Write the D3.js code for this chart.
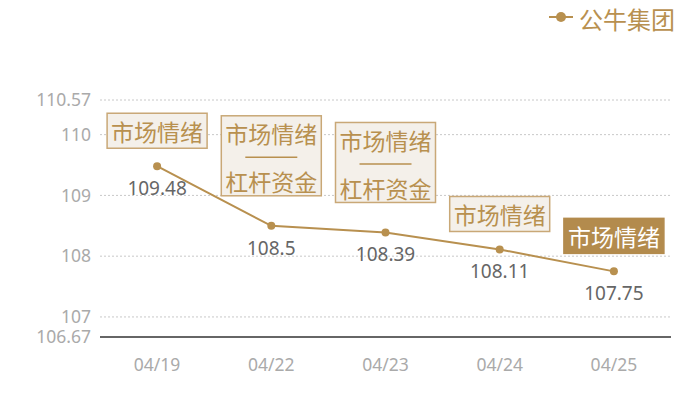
<!DOCTYPE html>
<html>
<head>
<meta charset="utf-8">
<script src="https://cdn.jsdelivr.net/npm/d3@7"></script>
<style>
html,body{margin:0;padding:0;background:#fff;}
svg{display:block;}
</style>
</head>
<body>
<svg id="chart" width="700" height="400"></svg>
<script>
const categories = ["04/19", "04/22", "04/23", "04/24", "04/25"];
const values = [109.48, 108.5, 108.39, 108.11, 107.75];
const seriesName = "公牛集团";
const yTicks = [106.67, 107, 108, 109, 110, 110.57];
const yDomain = [106.67, 110.57];
const annotations = [["市场情绪"], ["市场情绪", "杠杆资金"], ["市场情绪", "杠杆资金"], ["市场情绪"], ["市场情绪"]];
const highlighted = [false, false, false, false, true];

const gold = "#b8904f";
const cjk = "'Noto Sans CJK SC', 'Noto Sans', sans-serif";
const latin = "'Noto Sans', 'DejaVu Sans', sans-serif";

const svg = d3.select("#chart");
const x = d3.scaleBand().domain(categories).range([100, 671]).padding(0);
const y = d3.scaleLinear().domain(yDomain).range([337, 100]);
const cx = d => x(d) + x.bandwidth() / 2;

// grid lines
svg.append("g").selectAll("line").data(yTicks.filter(t => t !== yDomain[0])).join("line")
  .attr("x1", 100).attr("x2", 671)
  .attr("y1", d => y(d)).attr("y2", d => y(d))
  .attr("stroke", "#c8c8c8").attr("stroke-width", 1).attr("stroke-dasharray", "2,2");

// baseline
svg.append("line").attr("x1", 100).attr("x2", 671)
  .attr("y1", y(yDomain[0])).attr("y2", y(yDomain[0]))
  .attr("stroke", "#333").attr("stroke-width", 1.5);

// y axis labels
const yAxis = d3.axisLeft(y).tickValues(yTicks).tickSize(0).tickPadding(0).tickFormat(d => String(d));
const gy = svg.append("g").attr("transform", "translate(91,0)").call(yAxis);
gy.select(".domain").remove();
gy.selectAll("text").attr("fill", "#aaa").attr("font-family", latin).attr("font-size", "17.5px");

// x axis labels
const xAxis = d3.axisBottom(x).tickSize(0).tickPadding(0);
const gx = svg.append("g").attr("transform", "translate(0,359)").call(xAxis);
gx.select(".domain").remove();
gx.selectAll("text").attr("fill", "#aaa").attr("font-family", latin).attr("font-size", "17.5px");

// line
const line = d3.line().x((d, i) => cx(categories[i])).y(d => y(d));
svg.append("path").datum(values).attr("d", line)
  .attr("fill", "none").attr("stroke", gold).attr("stroke-width", 2);

// points
svg.append("g").selectAll("circle").data(values).join("circle")
  .attr("cx", (d, i) => cx(categories[i])).attr("cy", d => y(d)).attr("r", 4)
  .attr("fill", gold);

// value labels
svg.append("g").selectAll("text").data(values).join("text")
  .attr("x", (d, i) => cx(categories[i])).attr("y", d => y(d) + 29)
  .attr("text-anchor", "middle").attr("fill", "#666")
  .attr("font-family", latin).attr("font-size", "19px")
  .text(d => String(d));

// annotation boxes
const ag = svg.append("g");
annotations.forEach((lines, i) => {
  const px = cx(categories[i]);
  const py = y(values[i]);
  const dbl = lines.length > 1;
  const h = dbl ? 80 : 35;
  const bottom = py - (dbl ? 30 : 18);
  const top = bottom - h;
  const hl = highlighted[i];
  const g = ag.append("g");
  g.append("rect").attr("x", px - 50).attr("y", top).attr("width", 100).attr("height", h)
    .attr("fill", hl ? "#b38b4d" : "#f4f0ea")
    .attr("stroke", hl ? "#b38b4d" : "#c9a877").attr("stroke-width", 1.5);
  const tc = hl ? "#fff" : gold;
  if (dbl) {
    g.append("text").attr("x", px).attr("y", top + 17.5).attr("dominant-baseline", "central")
      .attr("text-anchor", "middle").attr("fill", tc).attr("font-family", cjk).attr("font-size", "23px").text(lines[0]);
    g.append("line").attr("x1", px - 26).attr("x2", px + 26).attr("y1", top + 41.5).attr("y2", top + 41.5)
      .attr("stroke", tc).attr("stroke-width", 1.5);
    g.append("text").attr("x", px).attr("y", top + 65.5).attr("dominant-baseline", "central")
      .attr("text-anchor", "middle").attr("fill", tc).attr("font-family", cjk).attr("font-size", "23px").text(lines[1]);
  } else {
    g.append("text").attr("x", px).attr("y", top + 18).attr("dominant-baseline", "central")
      .attr("text-anchor", "middle").attr("fill", tc).attr("font-family", cjk).attr("font-size", "23px").text(lines[0]);
  }
});

// legend
const lg = svg.append("g");
lg.append("line").attr("x1", 549).attr("x2", 573).attr("y1", 17).attr("y2", 17).attr("stroke", gold).attr("stroke-width", 2);
lg.append("circle").attr("cx", 561).attr("cy", 17).attr("r", 5).attr("fill", gold);
lg.append("text").attr("x", 579).attr("y", 18).attr("dominant-baseline", "central")
  .attr("fill", gold).attr("font-family", cjk).attr("font-size", "24px").text(seriesName);
</script>
</body>
</html>
